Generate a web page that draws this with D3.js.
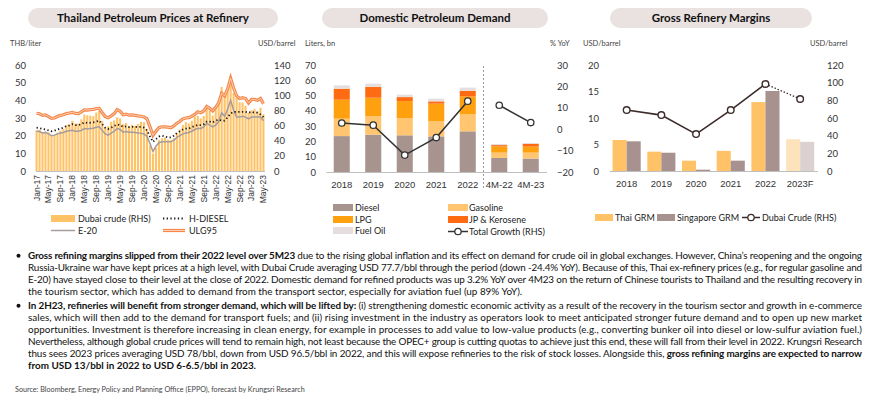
<!DOCTYPE html>
<html>
<head>
<meta charset="UTF-8">
<script src="https://d3js.org/d3.v7.min.js"></script>
<style>
  body { margin: 0; background: #fff; }
  svg { font-family: Lato, "Open Sans", sans-serif; }
  .tick text { fill: #333; }
</style>
</head>
<body>
<svg id="svg" width="870" height="408"></svg>
<script>
// ---------- chart 1: Thailand Petroleum Prices at Refinery ----------
var monthNames = ["Jan","Feb","Mar","Apr","May","Jun","Jul","Aug","Sep","Oct","Nov","Dec"];
var priceYears = ["17","18","19","20","21","22","23"];
var monthTicks = ["Jan-17","May-17","Sep-17","Jan-18","May-18","Sep-18","Jan-19","May-19","Sep-19",
  "Jan-20","May-20","Sep-20","Jan-21","May-21","Sep-21","Jan-22","May-22","Sep-22","Jan-23","May-23"];
// USD/barrel (RHS)
var dubaiMonthly = [
  53.7, 54.4, 51.0, 52.2, 50.9, 46.5, 47.6, 50.5, 53.4, 55.5, 60.7, 61.3,
  66.2, 62.7, 62.7, 68.3, 74.4, 73.6, 73.1, 72.5, 77.2, 79.4, 65.6, 57.3,
  59.1, 64.9, 66.9, 70.9, 69.4, 61.8, 63.2, 59.2, 61.0, 59.4, 62.0, 64.9,
  64.3, 54.2, 33.7, 23.0, 30.5, 40.8, 43.3, 44.0, 41.5, 40.7, 43.3, 49.8,
  54.8, 60.9, 64.4, 62.9, 66.3, 71.6, 72.9, 69.5, 72.6, 81.6, 80.3, 73.2,
  83.5, 92.4, 110.9, 102.8, 108.2, 113.2, 103.1, 96.6, 90.9, 90.6, 86.3, 77.0,
  80.2, 82.0, 78.6, 83.6, 74.9];
// THB/liter
var ulg95 = [
  32.7, 32.4, 31.5, 31.8, 30.8, 29.8, 30.0, 30.8, 31.5, 31.8, 32.5, 32.8,
  33.2, 32.6, 32.5, 33.5, 34.6, 34.5, 34.7, 34.8, 35.4, 35.5, 33.0, 30.8,
  30.2, 31.2, 32.5, 34.8, 33.8, 31.8, 32.2, 31.6, 31.8, 31.5, 31.2, 31.0,
  30.6, 29.5, 25.0, 20.2, 22.5, 24.5, 25.0, 25.0, 24.8, 24.5, 25.5, 27.0,
  28.0, 29.5, 30.0, 30.2, 31.0, 32.0, 33.5, 33.0, 34.0, 36.5, 35.5, 34.0,
  36.0, 38.5, 44.0, 42.5, 46.5, 52.5, 47.0, 42.5, 41.0, 41.5, 41.0, 38.5,
  40.5, 40.5, 40.0, 41.0, 38.0];
var hDiesel = [
  24.5, 24.3, 23.8, 23.5, 23.0, 22.5, 22.8, 23.5, 24.0, 24.5, 25.5, 25.8,
  26.5, 26.0, 26.0, 26.5, 27.5, 27.2, 27.3, 27.5, 28.0, 28.5, 26.5, 24.5,
  23.8, 24.5, 25.5, 26.3, 26.0, 25.0, 25.3, 24.8, 25.0, 24.8, 25.0, 25.0,
  24.5, 23.0, 19.5, 16.5, 18.0, 19.5, 20.0, 19.5, 19.0, 19.0, 20.0, 21.5,
  22.5, 23.5, 24.0, 24.0, 24.8, 25.5, 26.0, 26.0, 26.5, 28.0, 28.0, 27.5,
  28.5, 29.0, 28.5, 28.5, 30.5, 32.5, 33.5, 33.5, 33.5, 33.5, 33.5, 33.0,
  33.5, 33.0, 33.0, 32.0, 30.5];
var e20 = [
  22.5, 22.3, 21.5, 21.8, 21.0, 20.0, 20.3, 21.0, 21.5, 21.8, 22.5, 22.8,
  23.0, 22.5, 22.5, 23.0, 24.0, 23.8, 24.0, 24.2, 24.8, 25.0, 23.0, 21.0,
  20.3, 21.5, 22.5, 24.0, 23.5, 22.0, 22.3, 22.0, 22.0, 21.8, 21.5, 21.3,
  21.0, 19.5, 15.5, 11.0, 14.0, 16.0, 16.5, 16.5, 16.5, 16.5, 17.5, 19.0,
  20.0, 21.0, 21.5, 21.8, 22.5, 23.5, 24.0, 24.0, 25.0, 27.0, 26.0, 25.0,
  26.0, 28.0, 33.0, 31.0, 35.0, 40.0, 34.5, 30.5, 30.5, 31.0, 30.5, 29.5,
  30.5, 30.5, 30.5, 30.5, 28.5];
var priceTicksL = [0, 10, 20, 30, 40, 50, 60];
var priceTicksR = [0, 20, 40, 60, 80, 100, 120, 140];

// ---------- chart 2: Domestic Petroleum Demand ----------
var demandCats = ["2018", "2019", "2020", "2021", "2022", "4M-22", "4M-23"];
var diesel = [23.5, 24.4, 24.0, 23.3, 26.6, 9.2, 8.8];
var gasoline = [11.4, 12.0, 11.3, 10.0, 11.1, 3.5, 3.9];
var lpg = [12.4, 12.2, 11.1, 11.4, 11.8, 4.1, 3.9];
var jpKerosene = [7.2, 7.0, 2.6, 1.5, 3.5, 0.8, 1.9];
var fuelOil = [2.2, 2.2, 1.6, 1.8, 2.2, 0.7, 0.5];
var totalGrowth = [2.9, 1.9, -12.1, -3.9, 13.1, 11.2, 3.1];
var demandTicksL = [0, 10, 20, 30, 40, 50, 60, 70];
var demandTicksR = [-20, -10, 0, 10, 20, 30];

// ---------- chart 3: Gross Refinery Margins ----------
var grmCats = ["2018", "2019", "2020", "2021", "2022", "2023F"];
var thaiGrm = [5.85, 3.65, 1.95, 3.8, 13.0, 6.0];
var sgGrm = [5.6, 3.45, 0.25, 1.95, 15.1, 5.5];
var dubaiAnnual = [69.0, 63.3, 41.8, 69.0, 98.5, 81.5];
var grmTicksL = [0, 5, 10, 15, 20];
var grmTicksR = [0, 20, 40, 60, 80, 100, 120];

var svg = d3.select("#svg");

function title(x, w, txt) {
  svg.append("rect").attr("x", x).attr("y", 8).attr("width", w).attr("height", 20)
    .attr("rx", 10).attr("fill", "#E9E2E1");
  svg.append("text").attr("x", x + w / 2).attr("y", 22).attr("text-anchor", "middle")
    .attr("font-size", 11.5).attr("font-weight", "bold").attr("fill", "#111").text(txt);
}
function unit(x, txt, anchor) {
  svg.append("text").attr("x", x).attr("y", 46).attr("font-size", 7.5)
    .attr("text-anchor", anchor || "start").attr("fill", "#444").text(txt);
}
function yAxis(axis, x) {
  var g = svg.append("g").attr("transform", "translate(" + x + ",0)").call(axis);
  g.select(".domain").remove();
  g.selectAll("text").attr("font-size", 9.5).attr("font-family", "Lato, sans-serif");
  return g;
}

// ===== chart 1 =====
title(28, 250, "Thailand Petroleum Prices at Refinery");
unit(10, "THB/liter");
unit(258, "USD/barrel");

var months = [];
priceYears.forEach(function (y) { monthNames.forEach(function (m) { months.push(m + "-" + y); }); });
months = months.slice(0, dubaiMonthly.length);

var x1 = d3.scaleBand().domain(months).range([35.5, 264.5]).paddingInner(0.3);
var y1 = d3.scaleLinear().domain([0, 60]).range([171, 65]);
var y1r = d3.scaleLinear().domain([0, 140]).range([171, 65]);

yAxis(d3.axisLeft(y1).tickValues(priceTicksL).tickSize(0).tickPadding(4), 30);
yAxis(d3.axisRight(y1r).tickValues(priceTicksR).tickSize(0).tickPadding(4), 270);

svg.append("g").selectAll("rect").data(dubaiMonthly).enter().append("rect")
  .attr("x", function (d, i) { return x1(months[i]); })
  .attr("width", x1.bandwidth())
  .attr("y", function (d) { return y1r(d); })
  .attr("height", function (d) { return y1r(0) - y1r(d); })
  .attr("fill", "#FFC266");

var xb1 = svg.append("g").attr("transform", "translate(0,171)")
  .call(d3.axisBottom(x1).tickValues(monthTicks).tickSize(0).tickPadding(0));
xb1.select(".domain").attr("stroke", "#BFBFBF");
xb1.selectAll("text").attr("font-size", 8.5).attr("text-anchor", "end")
  .attr("transform", "translate(0,4) rotate(-90)").attr("dy", "0.35em").attr("x", 0).attr("y", 0);

var cx1 = function (d, i) { return x1(months[i]) + x1.bandwidth() / 2; };
var line1 = d3.line().x(cx1).y(function (d) { return y1(d); });
svg.append("path").datum(e20).attr("d", line1).attr("fill", "none")
  .attr("stroke", "#A59C9E").attr("stroke-width", 1.5);
svg.append("path").datum(hDiesel).attr("d", line1).attr("fill", "none")
  .attr("stroke", "#1a1a1a").attr("stroke-width", 1.8).attr("stroke-dasharray", "1.3 2.4");
svg.append("path").datum(ulg95).attr("d", line1).attr("fill", "none")
  .attr("stroke", "#F5884A").attr("stroke-width", 3.2);
svg.append("path").datum(ulg95).attr("d", line1).attr("fill", "none")
  .attr("stroke", "#FCD6BE").attr("stroke-width", 0.9);

// legend chart 1
var lg1 = svg.append("g").attr("font-size", 9).attr("fill", "#222");
lg1.append("rect").attr("x", 51).attr("y", 215).attr("width", 24).attr("height", 7).attr("fill", "#FFC266");
lg1.append("text").attr("x", 78).attr("y", 222).text("Dubai crude (RHS)");
lg1.append("line").attr("x1", 163).attr("x2", 185).attr("y1", 218.5).attr("y2", 218.5)
  .attr("stroke", "#1a1a1a").attr("stroke-width", 1.8).attr("stroke-dasharray", "1.3 2.4");
lg1.append("text").attr("x", 189).attr("y", 222).text("H-DIESEL");
lg1.append("line").attr("x1", 51).attr("x2", 75).attr("y1", 230.5).attr("y2", 230.5)
  .attr("stroke", "#A59C9E").attr("stroke-width", 1.5);
lg1.append("text").attr("x", 78).attr("y", 234).text("E-20");
lg1.append("line").attr("x1", 163).attr("x2", 185).attr("y1", 230.5).attr("y2", 230.5)
  .attr("stroke", "#F5884A").attr("stroke-width", 3.2);
lg1.append("line").attr("x1", 163).attr("x2", 185).attr("y1", 230.5).attr("y2", 230.5)
  .attr("stroke", "#FCD6BE").attr("stroke-width", 0.9);
lg1.append("text").attr("x", 189).attr("y", 234).text("ULG95");

// ===== chart 2 =====
title(322, 226, "Domestic Petroleum Demand");
unit(305, "Liters, bn");
unit(550, "% YoY");

var x2 = d3.scaleBand().domain(demandCats).range([326, 546.5]).paddingInner(0.49).paddingOuter(0.245);
var y2 = d3.scaleLinear().domain([0, 70]).range([172, 65]);
var y2r = d3.scaleLinear().domain([-20, 30]).range([172, 65]);

yAxis(d3.axisLeft(y2).tickValues(demandTicksL).tickSize(0).tickPadding(4), 320);
yAxis(d3.axisRight(y2r).tickValues(demandTicksR).tickSize(0).tickPadding(4), 553);

var demandKeys = ["Diesel", "Gasoline", "LPG", "JP & Kerosene", "Fuel Oil"];
var demandSeries = [diesel, gasoline, lpg, jpKerosene, fuelOil];
var demandColors = ["#A8948F", "#FFC571", "#FFA00F", "#FF6B12", "#E6DEDE"];
var demandRows = demandCats.map(function (c, i) {
  var r = { cat: c };
  demandKeys.forEach(function (k, j) { r[k] = demandSeries[j][i]; });
  return r;
});
var stacked = d3.stack().keys(demandKeys)(demandRows);
svg.append("g").selectAll("g").data(stacked).enter().append("g")
  .attr("fill", function (d, i) { return demandColors[i]; })
  .selectAll("rect").data(function (d) { return d; }).enter().append("rect")
  .attr("x", function (d) { return x2(d.data.cat); })
  .attr("width", x2.bandwidth())
  .attr("y", function (d) { return y2(d[1]); })
  .attr("height", function (d) { return y2(d[0]) - y2(d[1]); });

var xb2 = svg.append("g").attr("transform", "translate(0,172)")
  .call(d3.axisBottom(x2).tickSize(0).tickPadding(9));
xb2.select(".domain").attr("stroke", "#BFBFBF");
xb2.selectAll("text").attr("font-size", 9.5);

// separator between full years and 4M
var sepX = (x2("2022") + x2("4M-22") + x2.bandwidth()) / 2;
svg.append("line").attr("x1", sepX).attr("x2", sepX).attr("y1", 66).attr("y2", 190)
  .attr("stroke", "#8a8080").attr("stroke-width", 0.8).attr("stroke-dasharray", "2 2");

var cx2 = function (d, i) { return x2(demandCats[i]) + x2.bandwidth() / 2; };
var line2 = d3.line().x(function (d) { return cx2(d, d.i); }).y(function (d) { return y2r(d.v); });
var growthPts = totalGrowth.map(function (v, i) { return { v: v, i: i }; });
[growthPts.slice(0, 5), growthPts.slice(5)].forEach(function (seg) {
  svg.append("path").datum(seg).attr("d", line2).attr("fill", "none")
    .attr("stroke", "#333").attr("stroke-width", 1.5);
});
svg.append("g").selectAll("circle").data(growthPts).enter().append("circle")
  .attr("cx", function (d) { return cx2(d, d.i); }).attr("cy", function (d) { return y2r(d.v); })
  .attr("r", 3.2).attr("fill", "#fff").attr("stroke", "#333").attr("stroke-width", 1.3);

// legend chart 2
var lg2 = svg.append("g").attr("font-size", 9).attr("fill", "#222");
var lg2Pos = [[333, 208], [448, 208], [333, 220], [448, 220], [333, 231]];
demandKeys.forEach(function (k, i) {
  lg2.append("rect").attr("x", lg2Pos[i][0]).attr("y", lg2Pos[i][1] - 4).attr("width", 20).attr("height", 7)
    .attr("fill", demandColors[i]);
  lg2.append("text").attr("x", lg2Pos[i][0] + (i % 2 ? 21 : 22)).attr("y", lg2Pos[i][1] + 3).text(k);
});
lg2.append("line").attr("x1", 448).attr("x2", 468).attr("y1", 231.5).attr("y2", 231.5)
  .attr("stroke", "#333").attr("stroke-width", 1.5);
lg2.append("circle").attr("cx", 458).attr("cy", 231.5).attr("r", 3.2)
  .attr("fill", "#fff").attr("stroke", "#333").attr("stroke-width", 1.3);
lg2.append("text").attr("x", 469).attr("y", 234.5).text("Total Growth (RHS)");

// ===== chart 3 =====
title(610, 202, "Gross Refinery Margins");
unit(583, "USD/barrel");
unit(810, "USD/barrel");

var x3 = d3.scaleBand().domain(grmCats).range([609.3, 817.5]).paddingInner(0.19).paddingOuter(0.095);
var x3s = d3.scaleBand().domain(["thai", "sg"]).range([0, x3.bandwidth()]);
var y3 = d3.scaleLinear().domain([0, 20]).range([171, 65]);
var y3r = d3.scaleLinear().domain([0, 120]).range([171, 65]);

yAxis(d3.axisLeft(y3).tickValues(grmTicksL).tickSize(0).tickPadding(4), 603);
yAxis(d3.axisRight(y3r).tickValues(grmTicksR).tickSize(0).tickPadding(4), 823);

var grmRows = grmCats.map(function (c, i) { return { cat: c, thai: thaiGrm[i], sg: sgGrm[i], f: c.indexOf("F") > 0 }; });
var grmColor = { thai: ["#FFC266", "#FDE3BC"], sg: ["#A8928F", "#DBD1D0"] };
["thai", "sg"].forEach(function (k) {
  svg.append("g").selectAll("rect").data(grmRows).enter().append("rect")
    .attr("x", function (d) { return x3(d.cat) + x3s(k); })
    .attr("width", x3s.bandwidth())
    .attr("y", function (d) { return y3(d[k]); })
    .attr("height", function (d) { return y3(0) - y3(d[k]); })
    .attr("fill", function (d) { return grmColor[k][d.f ? 1 : 0]; });
});

var xb3 = svg.append("g").attr("transform", "translate(0,171)")
  .call(d3.axisBottom(x3).tickSize(0).tickPadding(9));
xb3.select(".domain").attr("stroke", "#BFBFBF");
xb3.selectAll("text").attr("font-size", 9.5);

var cx3 = function (i) { return x3(grmCats[i]) + x3.bandwidth() / 2; };
var dubaiPts = dubaiAnnual.map(function (v, i) { return { v: v, i: i }; });
var line3 = d3.line().x(function (d) { return cx3(d.i); }).y(function (d) { return y3r(d.v); });
svg.append("path").datum(dubaiPts.slice(0, 5)).attr("d", line3).attr("fill", "none")
  .attr("stroke", "#3D2B2B").attr("stroke-width", 1.6);
svg.append("path").datum(dubaiPts.slice(4)).attr("d", line3).attr("fill", "none")
  .attr("stroke", "#3D2B2B").attr("stroke-width", 1.3).attr("stroke-dasharray", "1.5 1.8");
svg.append("g").selectAll("circle").data(dubaiPts).enter().append("circle")
  .attr("cx", function (d) { return cx3(d.i); }).attr("cy", function (d) { return y3r(d.v); })
  .attr("r", 3.3).attr("fill", "#fff").attr("stroke", "#3D2B2B").attr("stroke-width", 1.4);

// legend chart 3
var lg3 = svg.append("g").attr("font-size", 9).attr("fill", "#222");
lg3.append("rect").attr("x", 595).attr("y", 214).attr("width", 18).attr("height", 7).attr("fill", "#FFC266");
lg3.append("text").attr("x", 615).attr("y", 221).text("Thai GRM");
lg3.append("rect").attr("x", 657).attr("y", 214).attr("width", 18).attr("height", 7).attr("fill", "#A8928F");
lg3.append("text").attr("x", 677).attr("y", 221).text("Singapore GRM");
lg3.append("line").attr("x1", 742).attr("x2", 760).attr("y1", 217.5).attr("y2", 217.5)
  .attr("stroke", "#3D2B2B").attr("stroke-width", 1.5);
lg3.append("circle").attr("cx", 751).attr("cy", 217.5).attr("r", 3.2)
  .attr("fill", "#fff").attr("stroke", "#3D2B2B").attr("stroke-width", 1.3);
lg3.append("text").attr("x", 762).attr("y", 221).text("Dubai Crude (RHS)");

// ===== commentary =====
var para = [
  { bullet: true, y: 259, just: true, parts: [["Gross refining margins slipped from their 2022 level over 5M23", 1], [" due to the rising global inflation and its effect on demand for crude oil in global exchanges. However, China\u2019s reopening and the ongoing", 0]] },
  { y: 271, just: true, parts: [["Russia-Ukraine war have kept prices at a high level, with Dubai Crude averaging USD 77.7/bbl through the period (down -24.4% YoY). Because of this, Thai ex-refinery prices (e.g., for regular gasoline and", 0]] },
  { y: 283, just: true, parts: [["E-20) have stayed close to their level at the close of 2022. Domestic demand for refined products was up 3.2% YoY over 4M23 on the return of Chinese tourists to Thailand and the resulting recovery in", 0]] },
  { y: 295, just: false, parts: [["the tourism sector, which has added to demand from the transport sector, especially for aviation fuel (up 89% YoY).", 0]] },
  { bullet: true, y: 309, just: true, parts: [["In 2H23, refineries will benefit from stronger demand, which will be lifted by:", 1], [" (i) strengthening domestic economic activity as a result of the recovery in the tourism sector and growth in e-commerce", 0]] },
  { y: 321, just: true, parts: [["sales, which will then add to the demand for transport fuels; and (ii) rising investment in the industry as operators look to meet anticipated stronger future demand and to open up new market", 0]] },
  { y: 333, just: true, parts: [["opportunities. Investment is therefore increasing in clean energy, for example in processes to add value to low-value products (e.g., converting bunker oil into diesel or low-sulfur aviation fuel.)", 0]] },
  { y: 345, just: true, parts: [["Nevertheless, although global crude prices will tend to remain high, not least because the OPEC+ group is cutting quotas to achieve just this end, these will fall from their level in 2022. Krungsri Research", 0]] },
  { y: 357, just: true, parts: [["thus sees 2023 prices averaging USD 78/bbl, down from USD 96.5/bbl in 2022, and this will expose refineries to the risk of stock losses. Alongside this, ", 0], ["gross refining margins are expected to narrow", 1]] },
  { y: 369, just: false, parts: [["from USD 13/bbl in 2022 to USD 6-6.5/bbl in 2023.", 1]] }
];
var body = svg.append("g").attr("font-size", 9.9).attr("fill", "#111");
para.forEach(function (p) {
  if (p.bullet) body.append("circle").attr("cx", 18.5).attr("cy", p.y - 3.3).attr("r", 2).attr("fill", "#111");
  var t = body.append("text").attr("x", 28).attr("y", p.y);
  if (p.just) t.attr("textLength", 834).attr("lengthAdjust", "spacing");
  p.parts.forEach(function (s) {
    t.append("tspan").attr("font-weight", s[1] ? "bold" : "normal").text(s[0]);
  });
});
svg.append("text").attr("x", 15).attr("y", 392).attr("font-size", 7.2).attr("fill", "#444")
  .text("Source: Bloomberg, Energy Policy and Planning Office (EPPO), forecast by Krungsri Research");
</script>
</body>
</html>
